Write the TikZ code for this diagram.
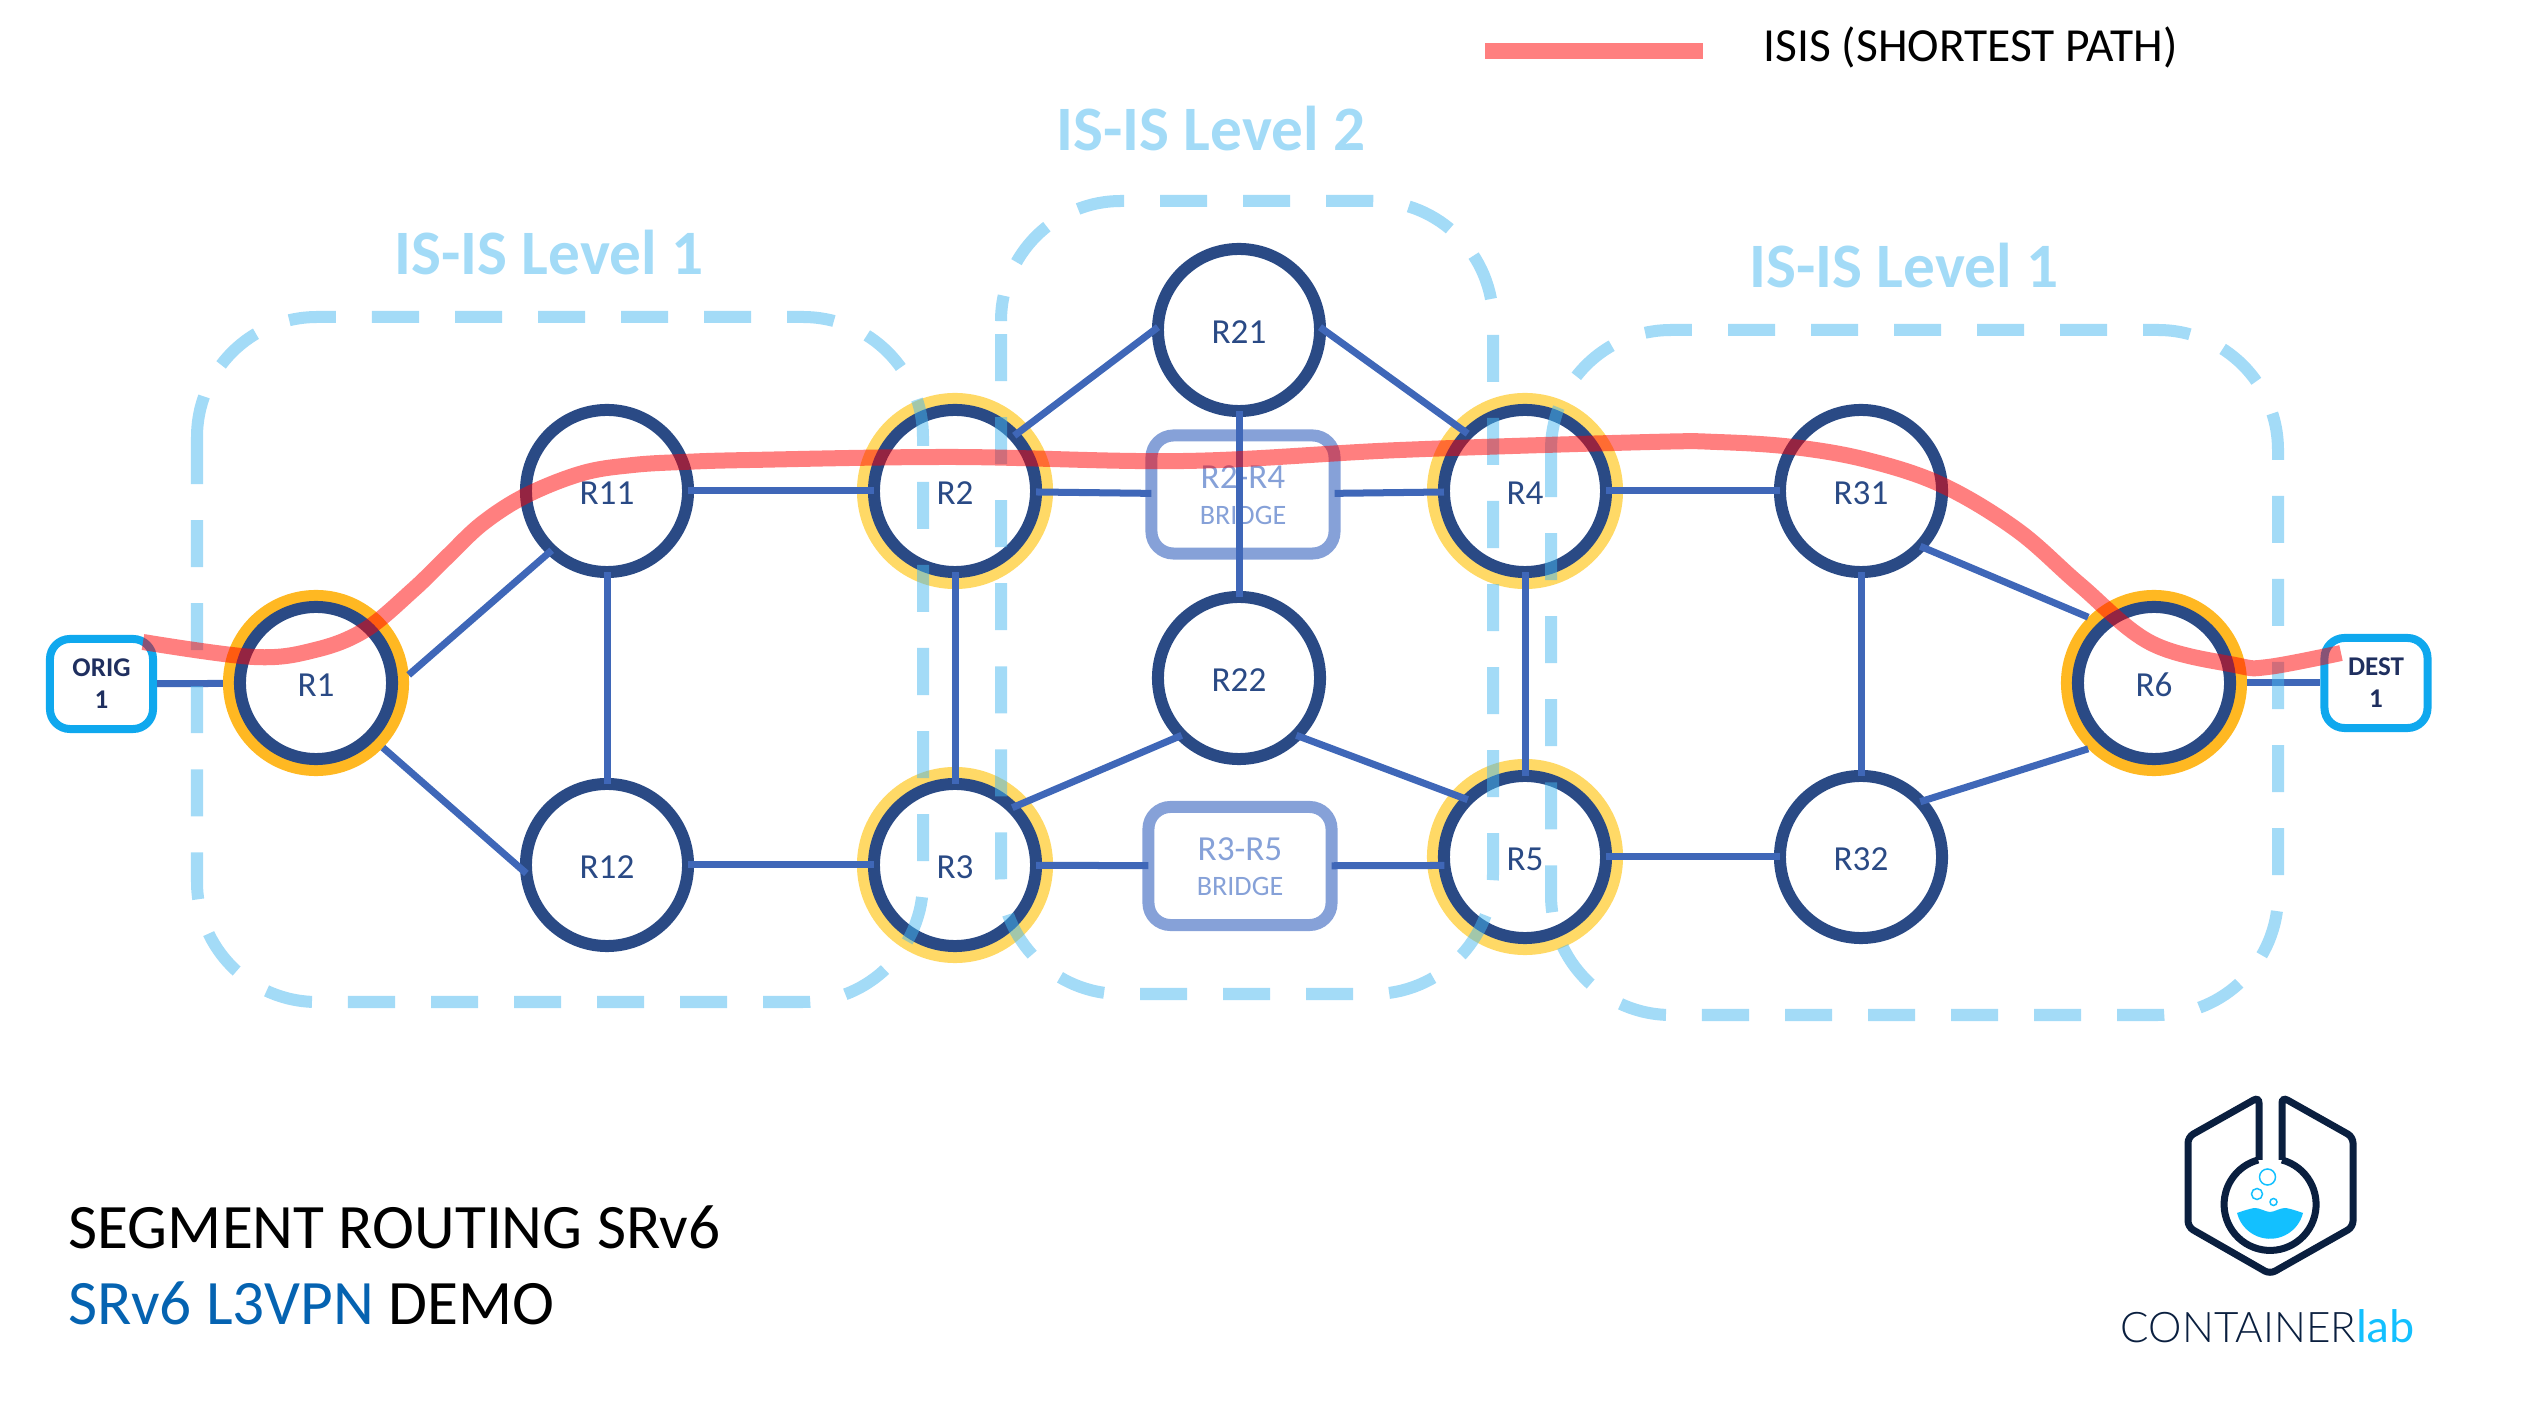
\documentclass[tikz,border=0pt]{standalone}
\usepackage{fontspec}
\setmainfont{Carlito}
\newfontfamily\labfont{Lato Light}
\usetikzlibrary{positioning}
\definecolor{navy}{HTML}{2A4A85}
\definecolor{linkblue}{HTML}{3F67B8}
\definecolor{bridgeblue}{HTML}{86A1D8}
\definecolor{zoneblue}{HTML}{47B7EF}
\definecolor{boxblue}{HTML}{0FA8EE}
\definecolor{haloa}{HTML}{FFB822}
\definecolor{halob}{HTML}{FFD966}
\definecolor{hostnavy}{HTML}{1F2F5F}
\definecolor{logonavy}{HTML}{0A1F3F}
\definecolor{logoblue}{HTML}{13C0FF}
\definecolor{srblue}{HTML}{0563B1}
\tikzset{
  rtr/.style={circle,draw=navy,line width=0.12cm,minimum size=1.62cm,inner sep=0pt,
    outer sep=0pt,text=navy,text height=0.27cm,text depth=0pt,font=\fontsize{10}{11}\selectfont},
  rtrsmall/.style={rtr,minimum size=1.52cm},
  haloout/.style={circle,draw=haloa,line width=0.17cm,minimum size=1.69cm,inner sep=0pt},
  haloin/.style={circle,draw=halob,line width=0.17cm,minimum size=1.79cm,inner sep=0pt},
  bridgebox/.style={draw=bridgeblue,line width=0.12cm,rounded corners=0.22cm,
    minimum width=1.83cm,minimum height=1.18cm,inner sep=0pt,outer sep=0pt,align=center,
    text=bridgeblue,font=\fontsize{10}{11}\selectfont},
  hostbox/.style={draw=boxblue,line width=0.08cm,rounded corners=0.2cm,
    minimum width=1.03cm,minimum height=0.90cm,inner sep=0pt,align=center,
    text=hostnavy,font=\bfseries\fontsize{7.7}{9.1}\selectfont},
  link/.style={draw=linkblue,line width=0.07cm},
  zone/.style={draw=zoneblue,line width=0.12cm,opacity=0.5,rounded corners=1.2cm,
    dash pattern=on 0.47cm off 0.36cm},
  zonelabel/.style={text=zoneblue!50,font=\bfseries\fontsize{18}{20}\selectfont},
  isis/.style={draw=red,line width=0.16cm,opacity=0.5},
  logoline/.style={draw=logonavy,line width=0.07cm,rounded corners=0.06cm},
  bubble/.style={draw=logoblue,line width=0.015cm},
}
\newcommand{\bridgetext}[1]{\raisebox{-0.13cm}[0pt][0pt]{\begin{tabular}{@{}c@{}}#1\\[-1pt]
  {\fontsize{8}{11}\selectfont BRIDGE}\end{tabular}}}
\begin{document}
\begin{tikzpicture}[x=0.01cm,y=-0.01cm]
\useasboundingbox (0,0) rectangle (2526,1416);

%halos
\foreach\n/\x/\y in {R1o/316/683,R6o/2154/683}
\node[haloout] (\n) at (\x,\y) {};
\foreach\n/\x/\y in {R2o/955/491,R3o/955/865,R4o/1525/491,R5o/1525/857}
\node[haloin] (\n) at (\x,\y) {};

%routers
\node[rtrsmall] (R1) at (R1o) {R1};
\node[rtrsmall] (R6) at (R6o) {R6};
\foreach\n/\x/\y in {R11/607/491,R12/607/865,R2/955/491,R3/955/865,R21/1239/330,
  R22/1239/678,R4/1525/491,R5/1525/857,R31/1861/491,R32/1861/857}
\node[rtr] (\n) at (\x,\y) {\n};

%bridges
\node[bridgebox] (B24) at (1243,494.5) {\bridgetext{R2-R4}};
\node[bridgebox] (B35) at (1240,866) {\bridgetext{R3-R5}};

%hosts
\node[hostbox] (ORIG) at (101.5,684) {ORIG\\1};
\node[hostbox] (DEST) at (2376,683) {DEST\\1};

%links
\draw[link] (ORIG) -- (R1o);
\draw[link] (R1o.5) -- (R11.227);
\draw[link] (R1o.316) -- (R12.186);
\draw[link] (R11) -- (R2);
\draw[link] (R11) -- (R12);
\draw[link] (R12) -- (R3);
\draw[link] (R2) -- (R3);
\draw[link] (R2.43) -- (R21.178);
\draw[link] (R21.2) -- (R4.135);
\draw[link] (R21) -- (R22);
\draw[link] (R2) -- (B24);
\draw[link] (B24) -- (R4);
\draw[link] (R3.45) -- (R22.225);
\draw[link] (R22.-45) -- (R5.135);
\draw[link] (R3) -- (B35);
\draw[link] (B35) -- (R5.186);
\draw[link] (R4) -- (R5);
\draw[link] (R4) -- (R31);
\draw[link] (R5) -- (R32);
\draw[link] (R31) -- (R32);
\draw[link] (R31.317) -- (R6o.135);
\draw[link] (R32.43) -- (R6o.225);
\draw[link] (R6o) -- (DEST);

%zones
\draw[zone] (197,317) rectangle (923,1002);
\draw[zone,dash phase=0.70cm] (1001,201) rectangle (1493,994);
\draw[zone] (1551,330) rectangle (2278,1015);
\node[zonelabel] (L1a) at (549,253) {IS-IS Level 1};
\node[zonelabel] (L2) at (1211,129) {IS-IS Level 2};
\node[zonelabel] (L1b) at (1904,266) {IS-IS Level 1};

%shortest path
\draw[isis] plot[smooth,tension=0.6] coordinates {(143,642) (254,657) (315,650) (365,630)
  (413,590) (447,557) (483,523) (527,495) (583,473) (633,465) (683,462) (750,460)
  (955,457) (1184,461) (1400,450) (1650,442) (1717,442) (1793,447) (1867,460)
  (1942,485) (2017,530) (2080,585) (2151,643) (2235,665) (2268,667) (2341,653)};

%legend
\coordinate (lega) at (1485,51);
\coordinate (legb) at (1703,51);
\draw[isis] (lega) -- (legb);
\node[anchor=west,inner sep=0pt,font=\fontsize{13.5}{16}\selectfont] (legtext) at (1763,47) {ISIS (SHORTEST PATH)};

%title
\node[anchor=west,inner sep=0pt,font=\fontsize{18}{20}\selectfont] (title) at (68,1227) {SEGMENT ROUTING SRv6};
\node[anchor=west,inner sep=0pt,font=\fontsize{18}{20}\selectfont] (demo) at (68,1303) {\textcolor{srblue}{SRv6 L3VPN} DEMO};

%logo
\draw[logoline] (2259,1160) -- (2259,1097) -- (2188,1137) -- (2188,1227) -- (2270,1274)
  -- (2353,1227) -- (2353,1137) -- (2282,1097) -- (2282,1160);
\draw[logoline] (2282,1160) arc[start angle=-75,end angle=255,radius=46];
\fill[logoblue] plot[smooth] coordinates {(2237,1213) (2255,1208) (2270,1212) (2285,1208) (2303,1213)}
  arc[start angle=14,end angle=166,radius=34];
\draw[bubble] (2267.5,1177) circle (8);
\draw[bubble] (2257,1194) circle (5.5);
\draw[bubble] (2273.5,1202) circle (3.5);
\node[anchor=base west,inner sep=0pt,font=\labfont\fontsize{12}{14}\selectfont,text=logonavy] (clab) at (2120,1342)
  {CONTAINER\textcolor{logoblue}{\rmfamily\fontsize{13.5}{14}\selectfont lab}};
\end{tikzpicture}
\end{document}
